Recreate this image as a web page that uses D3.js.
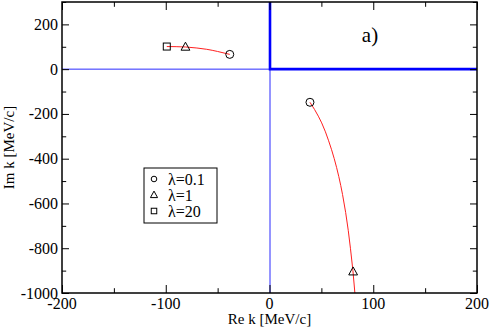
<!DOCTYPE html>
<html>
<head>
<meta charset="utf-8">
<script src="https://cdn.jsdelivr.net/npm/d3@7"></script>
<style>
  body { margin: 0; background: #fff; }
  svg { font-family: "Liberation Serif", "Times New Roman", serif; }
</style>
</head>
<body>
<svg id="chart" width="491" height="328"></svg>
<script>
// data
var upperCurve = [[-99, 101], [-90, 100.5], [-81, 99], [-70, 94.5], [-60.5, 88.7], [-50, 79], [-38.3, 66]]
var lowerCurve = [[39, -148], [43.4, -180], [50.3, -240], [57, -320], [62.4, -400], [66.8, -480],
                  [70.4, -560], [73.4, -640], [75.9, -720], [78, -800], [80.4, -900], [82.3, -1000]]
var circles = [[-38.3, 66], [39, -148]]         // lambda = 0.1
var triangles = [[-81, 99], [80.6, -905]]       // lambda = 1
var squares = [[-99, 101]]                      // lambda = 20
var legendLabels = ["\u03bb=0.1", "\u03bb=1", "\u03bb=20"]
var xTicks = [-200, -100, 0, 100, 200]
var yTicks = [200, 0, -200, -400, -600, -800, -1000]

var dims = { width: 491, height: 328, margin: { top: 2, bottom: 35, left: 62, right: 14 } }

var svg = d3.select("#chart")

var xScale = d3.scaleLinear()
    .domain([-200, 200])
    .range([dims.margin.left, dims.width - dims.margin.right])
var yScale = d3.scaleLinear()
    .domain([-1000, 300])
    .range([dims.height - dims.margin.bottom, dims.margin.top])

var x0 = xScale.range()[0], x1 = xScale.range()[1]
var y0 = yScale.range()[0], y1 = yScale.range()[1]

// thin blue axes through origin (soft, like the anti-aliased original)
svg.append("line")
    .attr("x1", x0).attr("x2", x1)
    .attr("y1", yScale(0)).attr("y2", yScale(0))
    .attr("stroke", "#2a2aff").attr("stroke-width", 1)
svg.append("line")
    .attr("x1", xScale(0) + 0.5).attr("x2", xScale(0) + 0.5)
    .attr("y1", y0).attr("y2", y1)
    .attr("stroke", "#2a2aff").attr("stroke-width", 1)

// thick blue cut
svg.append("path")
    .attr("d", `M${xScale(0) + 0.5},${y1}L${xScale(0) + 0.5},${yScale(0)}L${x1},${yScale(0)}`)
    .attr("fill", "none")
    .attr("stroke", "#0000ff")
    .attr("stroke-width", 2.6)

// red trajectories
var upperLine = d3.line()
    .x(d => xScale(d[0]))
    .y(d => yScale(d[1]))
    .curve(d3.curveMonotoneX)
var lowerLine = d3.line()
    .x(d => xScale(d[0]))
    .y(d => yScale(d[1]))
    .curve(d3.curveMonotoneY)

svg.append("path")
    .datum(upperCurve)
    .attr("d", upperLine)
    .attr("fill", "none")
    .attr("stroke", "#ff2020")
    .attr("stroke-width", 1)
svg.append("path")
    .datum(lowerCurve)
    .attr("d", lowerLine)
    .attr("fill", "none")
    .attr("stroke", "#ff2020")
    .attr("stroke-width", 1)

// markers
function drawCircle(g, x, y, r) {
    g.append("circle").attr("cx", x).attr("cy", y).attr("r", r)
        .attr("fill", "none").attr("stroke", "#000").attr("stroke-width", 1)
}
function drawTriangle(g, x, y, s) {
    g.append("path")
        .attr("d", `M${x},${y - s * 0.6}L${x + s * 0.55},${y + s * 0.4}L${x - s * 0.55},${y + s * 0.4}Z`)
        .attr("fill", "none").attr("stroke", "#000").attr("stroke-width", 1)
}
function drawSquare(g, x, y, s) {
    g.append("rect").attr("x", x - s / 2).attr("y", y - s / 2).attr("width", s).attr("height", s)
        .attr("fill", "none").attr("stroke", "#000").attr("stroke-width", 1)
}

var marks = svg.append("g")
circles.forEach(d => drawCircle(marks, xScale(d[0]), yScale(d[1]), 4))
triangles.forEach(d => drawTriangle(marks, xScale(d[0]), yScale(d[1]), 8))
squares.forEach(d => drawSquare(marks, xScale(d[0]), yScale(d[1]), 7))

// axes, ticks inward on all four sides
var xAxisBottom = d3.axisBottom(xScale).tickValues(d3.range(-200, 201, 50)).tickSizeInner(-8).tickSizeOuter(0).tickFormat("")
var xAxisTop = d3.axisTop(xScale).tickValues(d3.range(-200, 201, 50)).tickSizeInner(-8).tickSizeOuter(0).tickFormat("")
var yAxisLeft = d3.axisLeft(yScale).tickValues(d3.range(-1000, 301, 100)).tickSizeInner(-7).tickSizeOuter(0).tickFormat("")
var yAxisRight = d3.axisRight(yScale).tickValues(d3.range(-1000, 301, 100)).tickSizeInner(-7).tickSizeOuter(0).tickFormat("")

function styleTicks(g, major, isX) {
    g.select(".domain").remove()
    g.selectAll(".tick line")
        .attr("stroke", "#000")
        .attr("stroke-width", 1)
        .each(function(d) {
            if (major.indexOf(d) < 0) {
                var el = d3.select(this)
                if (isX) el.attr("y2", +el.attr("y2") * 0.6)
                else el.attr("x2", +el.attr("x2") * 0.6)
            }
        })
}

svg.append("g").attr("transform", `translate(0,${y0})`).call(xAxisBottom).call(g => styleTicks(g, xTicks, true))
svg.append("g").attr("transform", `translate(0,${y1})`).call(xAxisTop).call(g => styleTicks(g, xTicks, true))
svg.append("g").attr("transform", `translate(${x0},0)`).call(yAxisLeft).call(g => styleTicks(g, yTicks, false))
svg.append("g").attr("transform", `translate(${x1},0)`).call(yAxisRight).call(g => styleTicks(g, yTicks, false))

// frame
svg.append("rect")
    .attr("x", x0).attr("y", y1)
    .attr("width", x1 - x0).attr("height", y0 - y1)
    .attr("fill", "none")
    .attr("stroke", "#000")
    .attr("stroke-width", 1.5)

// tick labels
svg.append("g").selectAll("text")
    .data(xTicks)
    .enter()
    .append("text")
    .attr("x", d => xScale(d))
    .attr("y", y0 + 16)
    .attr("text-anchor", "middle")
    .style("font-size", "16px")
    .text(d => d)

svg.append("g").selectAll("text")
    .data(yTicks)
    .enter()
    .append("text")
    .attr("x", x0 - 4)
    .attr("y", d => yScale(d) + 5.5)
    .attr("text-anchor", "end")
    .style("font-size", "16px")
    .text(d => d)

// axis titles
svg.append("text")
    .attr("x", xScale(0))
    .attr("y", 324)
    .attr("text-anchor", "middle")
    .style("font-size", "15px")
    .text("Re k [MeV/c]")

svg.append("text")
    .attr("transform", `translate(14,${yScale(-350)}) rotate(-90)`)
    .attr("text-anchor", "middle")
    .style("font-size", "15px")
    .text("Im k [MeV/c]")

// panel label
svg.append("text")
    .attr("x", 370)
    .attr("y", 42)
    .attr("text-anchor", "middle")
    .style("font-size", "21px")
    .text("a)")

// legend
var legend = svg.append("g").attr("transform", "translate(144,168)")
legend.append("rect")
    .attr("width", 73).attr("height", 55)
    .attr("fill", "#fff")
    .attr("stroke", "#000")
    .attr("stroke-width", 1)
var legendRows = [0, 1, 2].map(i => 11 + i * 16)
drawCircle(legend, 10, legendRows[0], 2.8)
drawTriangle(legend, 10, legendRows[1], 6.5)
drawSquare(legend, 10, legendRows[2], 5.5)
legend.selectAll(".lbl")
    .data(legendLabels)
    .enter()
    .append("text")
    .attr("x", 24)
    .attr("y", (d, i) => legendRows[i] + 5.5)
    .style("font-size", "16px")
    .text(d => d)
</script>
</body>
</html>
